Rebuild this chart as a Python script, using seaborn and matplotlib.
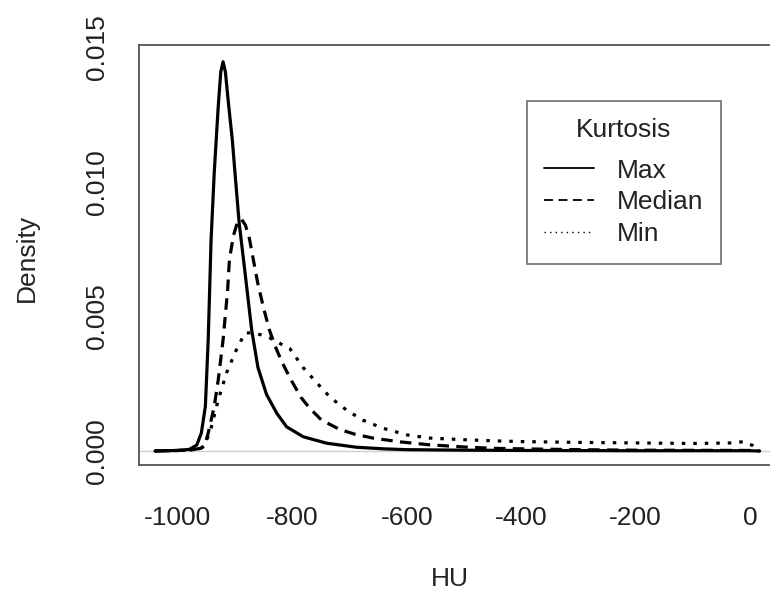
import numpy as np
import pandas as pd
import matplotlib
matplotlib.use("Agg")
import matplotlib.pyplot as plt
import seaborn as sns
from matplotlib.lines import Line2D

# density curves (HU, density)
max_hu = [-1040, -1000, -980, -967, -959, -952, -947, -942, -936.5, -929.5, -925, -921,
          -917, -911, -905, -900, -893, -883, -871, -860, -845, -827, -810, -781, -740,
          -688, -640, -600, -500, -400, -200, 0, 17]
max_density = [0, 0.00002, 0.00006, 0.00022, 0.00067, 0.00165, 0.00413, 0.00784, 0.01033,
               0.0128, 0.0141, 0.01447, 0.0141, 0.0128, 0.0116, 0.0103, 0.0085, 0.0067,
               0.0045, 0.0031, 0.0021, 0.0014, 0.0009, 0.00053, 0.00029, 0.00014, 0.00008,
               0.00005, 0.00003, 0.00002, 0.00001, 0.00001, 0]

median_hu = [-1040, -980, -960, -953, -947, -936.5, -929.5, -921, -913, -910, -903, -896,
             -889, -882, -875, -868, -860, -850, -840, -830, -818, -801, -785, -770, -749,
             -717, -690, -659, -612, -560, -500, -450, -400, -300, -200, 0, 17]
median_density = [0, 0.00003, 0.0001, 0.0002, 0.00067, 0.00165, 0.00264, 0.00413, 0.006,
                  0.0071, 0.008, 0.0085, 0.00862, 0.0084, 0.0079, 0.0071, 0.0062, 0.0053,
                  0.0045, 0.0039, 0.0033, 0.0026, 0.002, 0.0016, 0.00115, 0.0008, 0.00062,
                  0.00048, 0.00034, 0.00023, 0.00015, 0.0001, 0.00008, 0.00005, 0.00003,
                  0.00002, 0]

min_hu = [-1040, -980, -960, -953, -941.5, -929.5, -915, -898, -883, -870, -855, -839, -825,
          -813, -804, -781, -757, -734, -705, -677, -642, -600, -560, -500, -450, -400, -300,
          -200, -100, -30, -10, 5, 17]
min_density = [0, 0.00003, 0.0001, 0.0002, 0.00089, 0.0019, 0.0029, 0.00375, 0.00438, 0.0044,
               0.00432, 0.0042, 0.00405, 0.00388, 0.0038, 0.0031, 0.00253, 0.002, 0.00152,
               0.00115, 0.00085, 0.0006, 0.00048, 0.00042, 0.00038, 0.00035, 0.00032, 0.0003,
               0.00028, 0.0003, 0.00035, 0.0002, 0]

groups = ["Max", "Median", "Min"]
x_ticks = [-1000, -800, -600, -400, -200, 0]
y_ticks = [0.0, 0.005, 0.010, 0.015]
y_tick_labels = ["0.000", "0.005", "0.010", "0.015"]

df = pd.concat([
    pd.DataFrame({"HU": max_hu, "Density": max_density, "Kurtosis": "Max"}),
    pd.DataFrame({"HU": median_hu, "Density": median_density, "Kurtosis": "Median"}),
    pd.DataFrame({"HU": min_hu, "Density": min_density, "Kurtosis": "Min"}),
], ignore_index=True)

sns.set_style("white")
plt.rcParams["font.family"] = ["Liberation Sans", "DejaVu Sans"]

fig = plt.figure(figsize=(7.7, 5.94), dpi=100)
# right spine sits just outside the picture, like the cropped original
ax = fig.add_axes([0.1805, 0.2172, 0.8358, 0.707])

ax.axhline(0, color="#cfcfcf", lw=1, zorder=1)
sns.lineplot(data=df, x="HU", y="Density", style="Kurtosis", style_order=groups,
             dashes={"Max": "", "Median": (3.6, 2.3), "Min": (1.1, 2.5)},
             color="black", lw=2.3, estimator=None, sort=False, legend=False, ax=ax)

ax.set_xlim(-1068, 57)
ax.set_ylim(-0.00052, 0.015093)
ax.set_xticks(x_ticks)
ax.set_xticklabels([str(t) for t in x_ticks])
ax.set_yticks(y_ticks)
ax.set_yticklabels(y_tick_labels, rotation=90, va="center")

for s in ax.spines.values():
    s.set_color("#555555")
    s.set_linewidth(1.3)
ax.tick_params(axis="both", length=12.5, width=1.3, color="#555555", labelsize=19,
               labelcolor="#222222")
ax.tick_params(axis="x", pad=17)
ax.tick_params(axis="y", pad=9)

ax.set_xlabel("HU", fontsize=19, color="#222222", va="center")
ax.set_ylabel("Density", fontsize=19, color="#222222", va="center")
ax.xaxis.set_label_coords(0.483, -0.271)
ax.yaxis.set_label_coords(-0.174, 0.493)

handles = [
    Line2D([], [], color="black", lw=1.3, ls="-"),
    Line2D([], [], color="black", lw=1.3, dashes=(5, 3)),
    Line2D([], [], color="black", lw=1.0, dashes=(1, 3)),
]
leg = ax.legend(handles, groups, title="Kurtosis", loc="upper left",
                bbox_to_anchor=(527 / 770, 1 - 100.7 / 594),
                bbox_transform=fig.transFigure, borderaxespad=0,
                fontsize=19, title_fontsize=19, frameon=True, fancybox=False,
                handlelength=1.9, handletextpad=0.87, borderpad=0.65,
                labelspacing=0.3)
leg.get_frame().set_edgecolor("#555555")
leg.get_frame().set_linewidth(1.3)
leg.get_title().set_color("#222222")
for t in leg.get_texts():
    t.set_color("#222222")
leg._legend_box.sep = 12

fig.savefig("out.png", dpi=100)
